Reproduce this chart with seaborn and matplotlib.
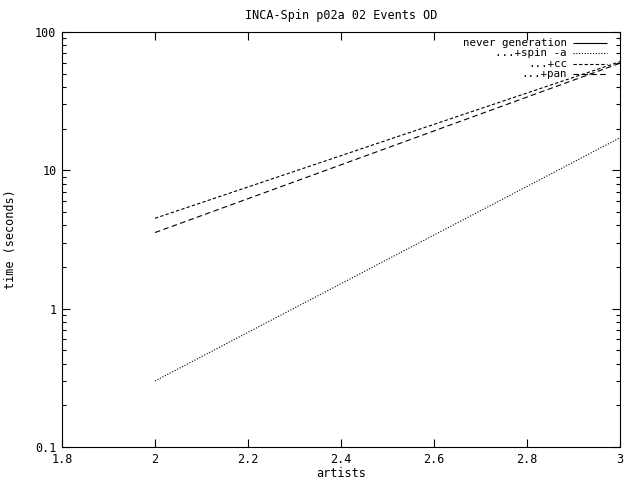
import matplotlib
matplotlib.use("Agg")
import matplotlib.pyplot as plt
import seaborn as sns
import pandas as pd
import numpy as np
from matplotlib.ticker import FixedLocator, FixedFormatter, LogLocator, NullFormatter

artists = [2, 3]
never_generation = [np.nan, np.nan]
spin_a = [0.30, 17.2]
cc = [4.5, 61.0]
pan = [3.55, 59.5]

labels = ["never generation", "...+spin -a", "...+cc", "...+pan"]
styles = [(0, ()), (0, (1, 1.5)), (0, (3, 2)), (0, (5, 3))]
series = [never_generation, spin_a, cc, pan]

FS = 8.5
LFS = 7.8

sns.set_style("ticks")
plt.rcParams["font.family"] = ["DejaVu Sans Mono"]
plt.rcParams["font.size"] = FS
plt.rcParams["text.color"] = "black"
plt.rcParams["axes.labelcolor"] = "black"
plt.rcParams["xtick.color"] = "black"
plt.rcParams["ytick.color"] = "black"

fig = plt.figure(figsize=(6.4, 4.8), dpi=100)
ax = fig.add_axes([62/640, 33/480, 558/640, 415/480])

for lab, vals, ls in zip(labels, series, styles):
    df = pd.DataFrame({"artists": artists, "time": vals})
    sns.lineplot(data=df, x="artists", y="time", ax=ax, color="black",
                 linewidth=0.8, linestyle=ls, legend=False)

ax.set_yscale("log")
ax.set_xlim(1.8, 3.0)
ax.set_ylim(0.1, 100)
ax.xaxis.set_major_locator(FixedLocator([1.8, 2.0, 2.2, 2.4, 2.6, 2.8, 3.0]))
ax.xaxis.set_major_formatter(FixedFormatter(["1.8", "2", "2.2", "2.4", "2.6", "2.8", "3"]))
ax.yaxis.set_major_locator(FixedLocator([0.1, 1, 10, 100]))
ax.yaxis.set_major_formatter(FixedFormatter(["0.1", "1", "10", "100"]))
ax.yaxis.set_minor_locator(LogLocator(base=10, subs=np.arange(2, 10)))
ax.yaxis.set_minor_formatter(NullFormatter())

ax.tick_params(which="both", direction="in", top=True, right=True, color="black",
               labelcolor="black", width=0.8)
ax.tick_params(which="major", length=6, labelsize=FS, pad=4)
ax.tick_params(which="minor", length=3)
for s in ax.spines.values():
    s.set_visible(True)
    s.set_color("black")
    s.set_linewidth(0.8)

ax.set_xlabel("artists", fontsize=FS, color="black")
ax.xaxis.set_label_coords(0.5, -0.047)
ax.set_ylabel("time (seconds)", fontsize=FS, color="black")
ax.yaxis.set_label_coords(-0.08, 0.5)
ax.set_title("INCA-Spin p02a 02 Events OD", fontsize=FS, pad=9, color="black")

# legend in gnuplot style: right-aligned text followed by line sample
rows = [0.974, 0.949, 0.924, 0.899]
for lab, ls, yy in zip(labels, styles, rows):
    ax.text(0.905, yy, lab, transform=ax.transAxes, ha="right", va="center",
            fontsize=LFS, color="black")
    ax.plot([0.916, 0.977], [yy, yy], transform=ax.transAxes, color="black",
            linewidth=0.8, linestyle=ls)

fig.savefig("out.png", dpi=100)
